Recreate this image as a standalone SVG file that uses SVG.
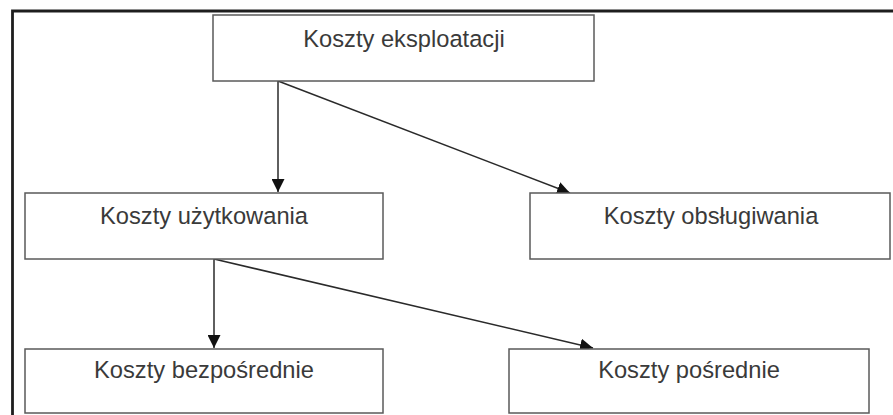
<svg xmlns="http://www.w3.org/2000/svg" width="893" height="415" viewBox="0 0 893 415">
<style>
.box{fill:#fff;stroke:#5a5a5a;stroke-width:1.5}
.lbl{font-family:"Liberation Sans",Arial,sans-serif;font-size:23.7px;fill:#3a3a3a;text-anchor:middle}
.con{stroke:#2a2a2a;stroke-width:1.5;fill:none}
</style>
<defs>
<marker id="ah" viewBox="0 0 10 10" refX="10" refY="5" markerWidth="13" markerHeight="13" markerUnits="userSpaceOnUse" orient="auto">
<path d="M0,0 L10,5 L0,10 z" fill="#111"/>
</marker>
</defs>
<rect width="893" height="415" fill="#fff"/>
<g id="frame">
<path d="M12.5,415 V11 H893" fill="none" stroke="#1e1e1e" stroke-width="2.8"/>
</g>
<g id="connectors">
<line class="con" x1="278" y1="81" x2="278" y2="192" marker-end="url(#ah)"/>
<line class="con" x1="278" y1="81" x2="570" y2="193" marker-end="url(#ah)"/>
<line class="con" x1="214" y1="259" x2="214" y2="348" marker-end="url(#ah)"/>
<line class="con" x1="214" y1="259" x2="593" y2="348" marker-end="url(#ah)"/>
</g>
<g id="n-eksploatacji">
<rect class="box" x="213" y="15" width="381" height="66"/>
<text class="lbl" x="404" y="47">Koszty eksploatacji</text>
</g>
<g id="n-uzytkowania">
<rect class="box" x="25" y="193" width="358" height="66"/>
<text class="lbl" x="204" y="224">Koszty użytkowania</text>
</g>
<g id="n-obslugiwania">
<rect class="box" x="530" y="193" width="360" height="66"/>
<text class="lbl" x="711" y="224">Koszty obsługiwania</text>
</g>
<g id="n-bezposrednie">
<rect class="box" x="25" y="349" width="358" height="64"/>
<text class="lbl" x="204" y="378">Koszty bezpośrednie</text>
</g>
<g id="n-posrednie">
<rect class="box" x="509" y="349" width="360" height="64"/>
<text class="lbl" x="689" y="378">Koszty pośrednie</text>
</g>
</svg>
